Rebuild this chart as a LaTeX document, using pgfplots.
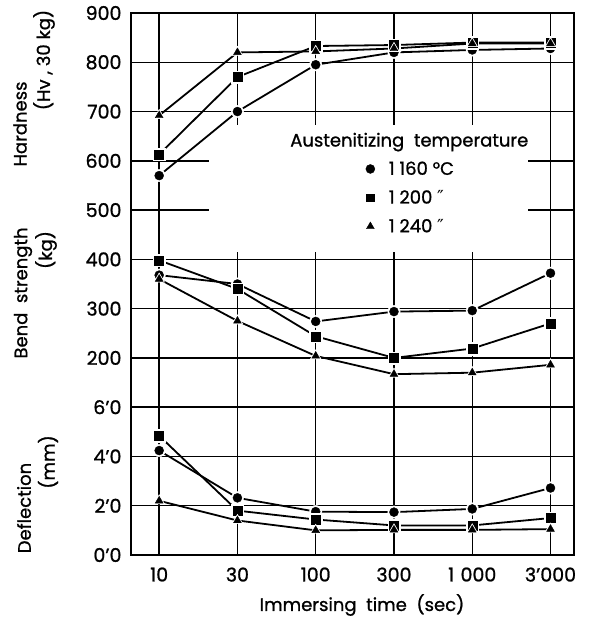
\documentclass[border=0pt]{standalone}
\usepackage{pgfplots}
\pgfplotsset{compat=1.18}
\usepackage{pgfplotstable}
\usepackage{fontspec}
\setmainfont{Poppins}[FakeBold=1]
\newfontfamily\djv{DejaVu Sans}

% Hardness (Hv, 30 kg)
\pgfplotstableread{
x c s t
0 570 613 692
1 700 770 820
2 795 833 822
3 820 835 828
4 825 840 838
5 828 840 838
}\hard
% Bend strength (kg)
\pgfplotstableread{
x c s t
0 368 398 360
1 350 340 275
2 274 244 204
3 294 200 167
4 296 219 170
5 372 270 186
}\bend
% Deflection (mm)
\pgfplotstableread{
x c s t
0 4.24 4.84 2.2
1 2.32 1.8 1.4
2 1.76 1.44 1.0
3 1.74 1.2 1.02
4 1.87 1.2 1.02
5 2.72 1.5 1.05
}\defl

\newcommand{\ser}[3]{%
  \addplot[black, line width=1.8pt, mark=none, forget plot] table[x=x, y expr={#2}] {#1};
  \addplot[only marks, mark=#3, mark size=6.2pt, white, forget plot] table[x=x, y expr={#2}] {#1};
  \addplot[only marks, mark=#3, mark size=4.5pt, black, forget plot] table[x=x, y expr={#2}] {#1};
}

\begin{document}
\begin{tikzpicture}[font=\fontsize{18}{21}\selectfont]
\useasboundingbox (-131pt,-70pt) rectangle (458pt,555pt);
\begin{axis}[
  at={(0pt,0pt)}, anchor=south west,
  scale only axis, width=443pt, height=542pt,
  xmin=-0.36, xmax=5.3, ymin=0, ymax=11,
  xtick={0,...,5}, xticklabels={10,30,100,300,1\,\,000,3’000},
  ytick={0,...,11}, yticklabels={0’0,2’0,4’0,6’0,200,300,400,500,600,700,800,900},
  grid=major, major grid style={black, line width=1.5pt},
  major tick length=0pt,
  axis line style={line width=2.5pt},
  tick label style={font=\fontsize{19}{21}\selectfont},
  xticklabel style={yshift=-9pt},
  yticklabel style={xshift=-6pt},
  legend style={at={(axis cs:2.6,8.07)}, anchor=north west, draw=none, fill=none,
    font=\fontsize{18}{21}\selectfont, row sep=10pt},
  legend cell align=left,
]
\fill[white] (axis cs:0.64,6.15) rectangle (axis cs:4.71,8.72);
\ser{\hard}{\thisrow{c}/100+2}{*}
\ser{\hard}{\thisrow{s}/100+2}{square*}
\ser{\hard}{\thisrow{t}/100+2}{triangle*}
\ser{\bend}{\thisrow{c}/100+2}{*}
\ser{\bend}{\thisrow{s}/100+2}{square*}
\ser{\bend}{\thisrow{t}/100+2}{triangle*}
\ser{\defl}{\thisrow{c}/2}{*}
\ser{\defl}{\thisrow{s}/2}{square*}
\ser{\defl}{\thisrow{t}/2}{triangle*}
\addlegendimage{only marks, mark=*, mark size=4.5pt, black}
\addlegendentry{\hspace{12pt}1 160 °C}
\addlegendimage{only marks, mark=square*, mark size=3.8pt, black}
\addlegendentry{\hspace{12pt}1 200 {\djv ″}}
\addlegendimage{only marks, mark=triangle*, mark size=4.5pt, black}
\addlegendentry{\hspace{12pt}1 240 {\djv ″}}
\node[anchor=west] at (axis cs:1.63,8.38) {Austenitizing\ \ temperature};
\end{axis}
\node[rotate=90] at (-111pt,431pt) {Hardness};
\node[rotate=90] at (-87pt,495pt) {(Hv , 30 kg)};
\node[rotate=90] at (-108pt,262pt) {Bend\ \ strength};
\node[rotate=90] at (-85pt,305pt) {(kg)};
\node[rotate=90] at (-107pt,47pt) {Deflection};
\node[rotate=90] at (-83pt,93pt) {(mm)};
\node at (231pt,-50pt) {Immersing\ \ time\ \ (sec)};
\end{tikzpicture}
\end{document}
